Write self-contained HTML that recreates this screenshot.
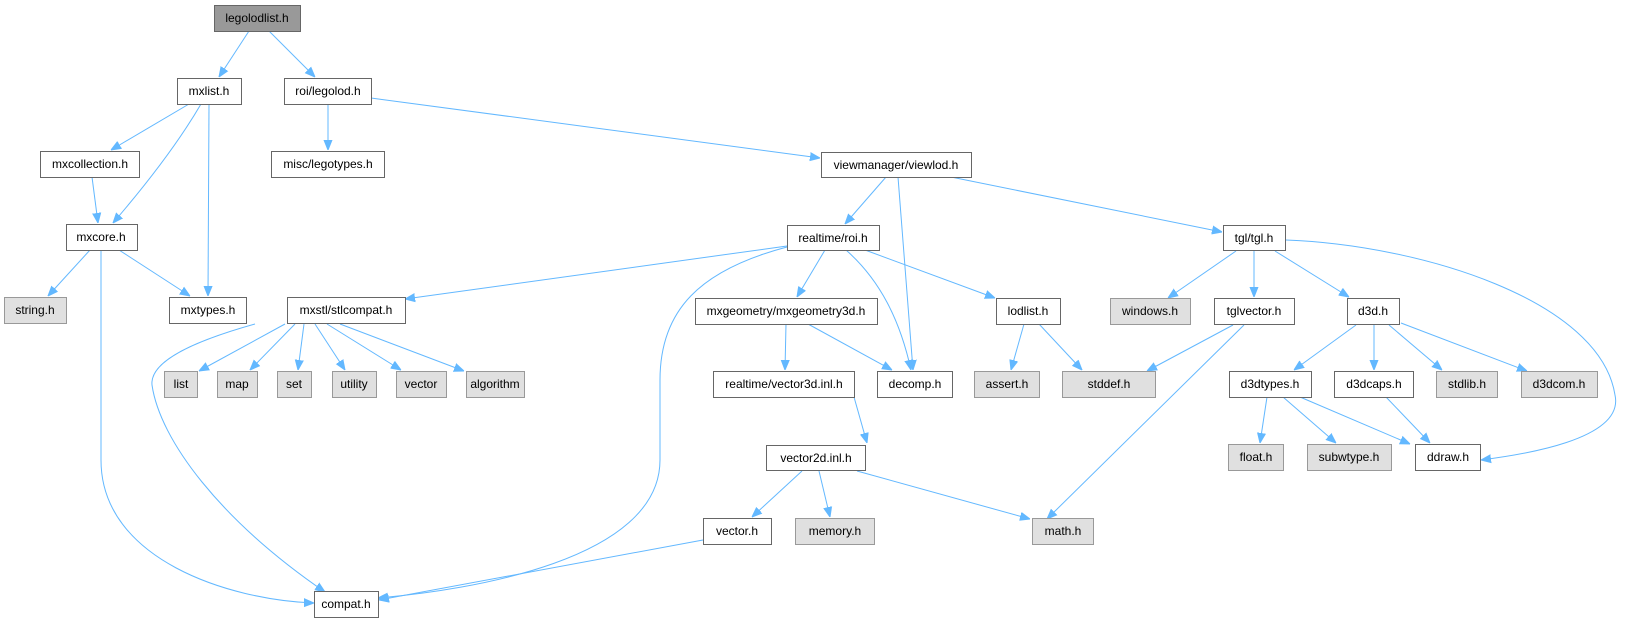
<!DOCTYPE html>
<html><head><meta charset="utf-8"><style>
html,body{margin:0;padding:0;background:#fff;}
svg{display:block}
text{font-family:"Liberation Sans",Arial,sans-serif;font-size:12px;fill:#000;text-anchor:middle}
.n rect{fill:#fff;stroke:#666;stroke-width:1}
.g rect{fill:#e0e0e0;stroke:#999;stroke-width:1}
.r rect{fill:#999;stroke:#666;stroke-width:1}
.e{fill:none;stroke:#63b8ff;stroke-width:1}
</style></head><body>
<svg width="1637" height="623" viewBox="0 0 1637 623" xmlns="http://www.w3.org/2000/svg">
<defs><marker id="a" viewBox="0 0 10 10" refX="10" refY="5" markerWidth="10" markerHeight="10" markerUnits="userSpaceOnUse" orient="auto"><path d="M0,1 L10,5 L0,9 z" fill="#63b8ff" stroke="#63b8ff"/></marker></defs>
<g marker-end="url(#a)">
<path class="e" d="M249,31 L219,77"/>
<path class="e" d="M269,31 L315,77"/>
<path class="e" d="M189,104 L111,150"/>
<path class="e" d="M201,104 C180,140 150,180 113,223"/>
<path class="e" d="M209,104 L208,296"/>
<path class="e" d="M328,104 L328,150"/>
<path class="e" d="M371,98 L820,158"/>
<path class="e" d="M92,177 L98,223"/>
<path class="e" d="M90,250 L48,296"/>
<path class="e" d="M119,250 L190,296"/>
<path class="e" d="M101,250 L101,460 C101,560 230,600 314,603"/>
<path class="e" d="M886,177 L845,224"/>
<path class="e" d="M898,177 L913,370"/>
<path class="e" d="M951,177 L1222,232"/>
<path class="e" d="M787,246 L405,299"/>
<path class="e" d="M825,250 L797,297"/>
<path class="e" d="M846,250 C880,280 900,320 911,370"/>
<path class="e" d="M865,250 L995,298"/>
<path class="e" d="M787,247 C700,270 660,310 660,380 L660,460 C660,560 470,590 378,598"/>
<path class="e" d="M255,324 C180,345 150,365 152,385 C160,440 220,520 325,592"/>
<path class="e" d="M285,324 L199,371"/>
<path class="e" d="M295,324 L250,370"/>
<path class="e" d="M304,324 L298,370"/>
<path class="e" d="M315,324 L345,370"/>
<path class="e" d="M327,324 L401,370"/>
<path class="e" d="M340,324 L464,371"/>
<path class="e" d="M786,324 L785,370"/>
<path class="e" d="M808,324 L892,370"/>
<path class="e" d="M1024,324 L1011,370"/>
<path class="e" d="M1039,324 L1082,370"/>
<path class="e" d="M1236,251 L1168,298"/>
<path class="e" d="M1254,251 L1254,297"/>
<path class="e" d="M1275,251 L1349,297"/>
<path class="e" d="M1286,240 C1420,245 1600,300 1615,395 C1625,440 1520,455 1481,460"/>
<path class="e" d="M1233,325 L1147,371"/>
<path class="e" d="M1244,325 L1047,519"/>
<path class="e" d="M1356,325 L1294,370"/>
<path class="e" d="M1374,325 L1374,370"/>
<path class="e" d="M1389,325 L1442,370"/>
<path class="e" d="M1401,323 L1527,371"/>
<path class="e" d="M1267,397 L1260,443"/>
<path class="e" d="M1283,397 L1336,443"/>
<path class="e" d="M1300,397 L1410,444"/>
<path class="e" d="M1386,397 L1430,443"/>
<path class="e" d="M854,397 L867,443"/>
<path class="e" d="M802,471 L752,517"/>
<path class="e" d="M819,471 L830,517"/>
<path class="e" d="M857,471 L1030,519"/>
<path class="e" d="M703,540 L379,600"/>
</g>
<g class="r"><rect x="214.5" y="5.5" width="86" height="26"/><text x="257" y="22">legolodlist.h</text></g>
<g class="n"><rect x="177.5" y="78.5" width="64" height="26"/><text x="209" y="95">mxlist.h</text></g>
<g class="n"><rect x="284.5" y="78.5" width="87" height="26"/><text x="328" y="95">roi/legolod.h</text></g>
<g class="n"><rect x="40.5" y="151.5" width="99" height="26"/><text x="90" y="168">mxcollection.h</text></g>
<g class="n"><rect x="271.5" y="151.5" width="113" height="26"/><text x="328" y="168">misc/legotypes.h</text></g>
<g class="n"><rect x="821.5" y="152.5" width="150" height="25"/><text x="896" y="169">viewmanager/viewlod.h</text></g>
<g class="n"><rect x="66.5" y="224.5" width="71" height="26"/><text x="101" y="241">mxcore.h</text></g>
<g class="n"><rect x="787.5" y="225.5" width="92" height="25"/><text x="833" y="242">realtime/roi.h</text></g>
<g class="n"><rect x="1223.5" y="225.5" width="62" height="25"/><text x="1254" y="242">tgl/tgl.h</text></g>
<g class="g"><rect x="4.5" y="297.5" width="62" height="26"/><text x="35" y="314">string.h</text></g>
<g class="n"><rect x="169.5" y="297.5" width="77" height="26"/><text x="208" y="314">mxtypes.h</text></g>
<g class="n"><rect x="287.5" y="297.5" width="118" height="26"/><text x="346" y="314">mxstl/stlcompat.h</text></g>
<g class="n"><rect x="695.5" y="298.5" width="182" height="26"/><text x="786" y="315">mxgeometry/mxgeometry3d.h</text></g>
<g class="n"><rect x="996.5" y="298.5" width="64" height="26"/><text x="1028" y="315">lodlist.h</text></g>
<g class="g"><rect x="1110.5" y="298.5" width="80" height="26"/><text x="1150" y="315">windows.h</text></g>
<g class="n"><rect x="1214.5" y="298.5" width="80" height="26"/><text x="1254" y="315">tglvector.h</text></g>
<g class="n"><rect x="1347.5" y="298.5" width="52" height="26"/><text x="1373" y="315">d3d.h</text></g>
<g class="g"><rect x="164.5" y="371.5" width="33" height="26"/><text x="181" y="388">list</text></g>
<g class="g"><rect x="217.5" y="371.5" width="40" height="26"/><text x="237" y="388">map</text></g>
<g class="g"><rect x="277.5" y="371.5" width="34" height="26"/><text x="294" y="388">set</text></g>
<g class="g"><rect x="332.5" y="371.5" width="44" height="26"/><text x="354" y="388">utility</text></g>
<g class="g"><rect x="396.5" y="371.5" width="50" height="26"/><text x="421" y="388">vector</text></g>
<g class="g"><rect x="466.5" y="371.5" width="58" height="26"/><text x="495" y="388">algorithm</text></g>
<g class="n"><rect x="713.5" y="371.5" width="141" height="26"/><text x="784" y="388">realtime/vector3d.inl.h</text></g>
<g class="n"><rect x="877.5" y="371.5" width="75" height="26"/><text x="915" y="388">decomp.h</text></g>
<g class="g"><rect x="974.5" y="371.5" width="65" height="26"/><text x="1007" y="388">assert.h</text></g>
<g class="g"><rect x="1062.5" y="371.5" width="93" height="26"/><text x="1109" y="388">stddef.h</text></g>
<g class="n"><rect x="1229.5" y="371.5" width="82" height="26"/><text x="1270" y="388">d3dtypes.h</text></g>
<g class="n"><rect x="1334.5" y="371.5" width="79" height="26"/><text x="1374" y="388">d3dcaps.h</text></g>
<g class="g"><rect x="1436.5" y="371.5" width="61" height="26"/><text x="1467" y="388">stdlib.h</text></g>
<g class="g"><rect x="1521.5" y="371.5" width="76" height="26"/><text x="1559" y="388">d3dcom.h</text></g>
<g class="n"><rect x="766.5" y="445.5" width="99" height="25"/><text x="816" y="462">vector2d.inl.h</text></g>
<g class="g"><rect x="1228.5" y="444.5" width="55" height="26"/><text x="1256" y="461">float.h</text></g>
<g class="g"><rect x="1307.5" y="444.5" width="84" height="26"/><text x="1349" y="461">subwtype.h</text></g>
<g class="n"><rect x="1415.5" y="444.5" width="65" height="26"/><text x="1448" y="461">ddraw.h</text></g>
<g class="n"><rect x="703.5" y="518.5" width="68" height="26"/><text x="737" y="535">vector.h</text></g>
<g class="g"><rect x="795.5" y="518.5" width="79" height="26"/><text x="835" y="535">memory.h</text></g>
<g class="g"><rect x="1032.5" y="518.5" width="61" height="26"/><text x="1063" y="535">math.h</text></g>
<g class="n"><rect x="314.5" y="591.5" width="64" height="26"/><text x="346" y="608">compat.h</text></g>
</svg>
</body></html>
